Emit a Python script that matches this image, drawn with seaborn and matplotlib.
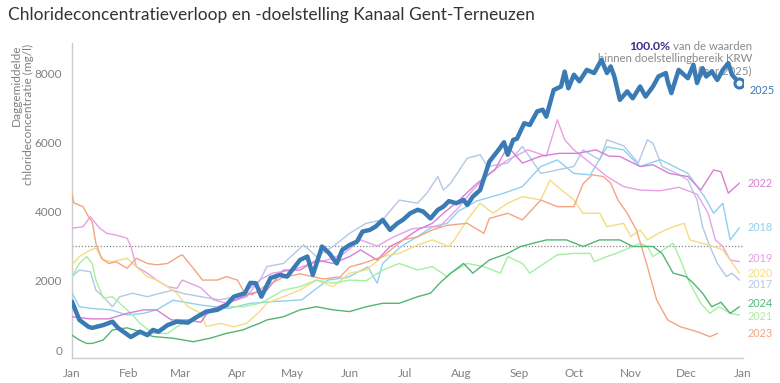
import numpy as np
import pandas as pd
import matplotlib
matplotlib.use("Agg")
import matplotlib.pyplot as plt
import seaborn as sns

# dag van het jaar (0 = 1 jan) en daggemiddelde chlorideconcentratie (mg/l)
days_2025 = [0, 4, 9, 11, 17, 22, 25, 32, 37, 41, 44, 47, 52, 57, 63, 68, 73, 79, 84, 88, 94, 97, 100,
             103, 108, 113, 117, 124, 128, 131, 136, 140, 144, 147, 151, 155, 158, 162, 165, 169, 173,
             177, 180, 184, 188, 191, 195, 199, 202, 205, 209, 213, 215, 218, 222, 227, 232, 235, 237,
             240, 242, 246, 249, 253, 256, 258, 262, 266, 268, 270, 273, 276, 280, 284, 288, 291, 293,
             295, 298, 302, 305, 309, 312, 316, 319, 323, 324, 326, 330, 335, 338, 340, 343, 345, 348,
             351, 354, 357, 359, 363]
vals_2025 = [1400, 870, 670, 640, 720, 820, 640, 375, 530, 430, 580, 530, 720, 820, 790, 960, 1110, 1160,
             1300, 1540, 1640, 1940, 1930, 1540, 2080, 2170, 2120, 2600, 2700, 2170, 2990, 2790, 2500,
             2890, 3035, 3130, 3420, 3470, 3560, 3760, 3470, 3660, 3760, 3950, 4050, 4000, 3800, 4050,
             4140, 4300, 4240, 4335, 4190, 4430, 4620, 5440, 5780, 6000, 5640, 6070, 6100, 6550, 6500,
             6890, 6940, 6740, 7510, 7610, 8040, 7560, 7950, 7760, 8090, 8000, 8380, 8000, 8190, 7900,
             7225, 7470, 7270, 7610, 7320, 7610, 7900, 8000, 7760, 7420, 8090, 7850, 8240, 7710, 8140,
             7900, 8040, 7800, 8090, 8285, 7950, 7710]

days_2024 = [0, 4, 8, 11, 17, 22, 30, 37, 44, 55, 66, 75, 84, 93, 97, 102, 106, 115, 124, 133, 142, 151,
             160, 169, 178, 188, 195, 200, 206, 213, 218, 227, 237, 244, 258, 269, 278, 287, 298, 305,
             316, 321, 327, 334, 338, 343, 348, 353, 358, 363]
vals_2024 = [430, 290, 190, 190, 290, 580, 640, 530, 390, 340, 240, 340, 480, 580, 670, 770, 870, 960,
             1160, 1250, 1160, 1110, 1250, 1350, 1350, 1540, 1640, 1930, 2220, 2500, 2220, 2600, 2790,
             2990, 3180, 3180, 2990, 3180, 3180, 2990, 2990, 2790, 2220, 2120, 1930, 1640, 1250, 1380,
             1060, 1250]

days_2023 = [0, 1, 6, 9, 11, 13, 16, 20, 24, 30, 35, 41, 46, 52, 58, 60, 66, 71, 79, 84, 90, 93, 98, 105,
             115, 124, 137, 146, 151, 158, 169, 180, 188, 196, 204, 215, 224, 227, 237, 245, 255, 264,
             273, 278, 283, 289, 293, 297, 302, 307, 313, 318, 324, 331, 340, 347, 351]
vals_2023 = [4500, 4250, 4140, 3850, 3700, 3080, 2650, 2500, 2550, 2360, 2650, 2500, 2460, 2500, 2700,
             2750, 2360, 2020, 2020, 2120, 2020, 1730, 1590, 1850, 2100, 2200, 2050, 2120, 2400, 2500,
             2700, 3180, 3270, 3470, 3600, 3660, 3370, 3800, 3950, 3760, 4330, 4140, 4140, 4800, 5060,
             5010, 4820, 4330, 3950, 3470, 2410, 1450, 870, 670, 530, 385, 480]

days_2022 = [0, 10, 20, 30, 39, 46, 54, 63, 70, 75, 84, 93, 98, 106, 115, 124, 133, 142, 151, 157, 166,
             173, 180, 188, 196, 202, 210, 220, 230, 237, 245, 255, 265, 275, 285, 292, 298, 309, 316,
             325, 335, 342, 349, 353, 357, 363]
vals_2022 = [960, 900, 900, 1060, 1160, 1160, 870, 870, 800, 1160, 1350, 1540, 1640, 1730, 2310, 2310,
             2600, 2500, 2700, 2890, 2600, 2990, 3180, 3470, 3660, 3950, 4300, 4800, 5200, 5880, 5400,
             5600, 5680, 5680, 5780, 5600, 5590, 5300, 5350, 5100, 5010, 4620, 5200, 5150, 4530, 4820]

days_2021 = [0, 4, 8, 11, 13, 17, 22, 28, 33, 37, 44, 52, 57, 63, 70, 79, 84, 93, 102, 106, 115, 124,
             133, 142, 151, 160, 169, 178, 188, 196, 204, 206, 215, 224, 233, 237, 245, 249, 264, 273,
             282, 284, 291, 296, 309, 313, 316, 327, 331, 336, 342, 347, 352, 358, 363]
vals_2021 = [2120, 2500, 2700, 2500, 2020, 1500, 1540, 1250, 1010, 770, 480, 480, 670, 870, 960, 1160,
             1250, 1250, 1350, 1450, 1730, 1830, 2020, 1930, 2020, 2000, 2310, 2500, 2310, 2410, 2120,
             2220, 2500, 2410, 2220, 2700, 2500, 2220, 2750, 2790, 2790, 2550, 2700, 2790, 3080, 2990,
             2700, 3080, 2600, 1930, 1350, 1060, 1250, 1060, 1010]

days_2020 = [0, 4, 10, 13, 17, 22, 30, 35, 41, 46, 52, 57, 63, 70, 73, 81, 88, 95, 102, 106, 115, 124,
             133, 142, 151, 160, 169, 178, 188, 196, 205, 208, 215, 222, 229, 237, 245, 255, 260, 264,
             273, 278, 287, 291, 300, 304, 309, 313, 320, 327, 333, 336, 343, 349, 354, 358, 363]
vals_2020 = [2460, 2700, 2890, 2940, 2600, 2550, 2650, 2400, 2120, 2020, 1830, 1640, 1250, 1060, 680,
             770, 670, 770, 1110, 1350, 1540, 1730, 2020, 1830, 2220, 2310, 2700, 2790, 3035, 3180, 2990,
             3180, 3760, 4240, 3950, 4240, 4430, 4335, 4910, 4720, 4335, 3950, 3950, 3560, 3660, 3275,
             3470, 3180, 3400, 3560, 3660, 3180, 3080, 2990, 2890, 2600, 2220]

days_2019 = [0, 6, 10, 15, 19, 24, 30, 32, 35, 41, 46, 52, 57, 60, 70, 77, 84, 95, 102, 109, 120, 130,
             139, 148, 157, 166, 175, 185, 195, 200, 210, 218, 227, 237, 248, 258, 264, 268, 273, 282,
             291, 300, 309, 320, 330, 340, 346, 350, 354, 358, 363]
vals_2019 = [3520, 3560, 3850, 3520, 3370, 3320, 3230, 2990, 2410, 2220, 2020, 1830, 1780, 2020, 1800,
             1450, 1350, 1540, 2020, 2220, 2310, 2500, 2600, 2790, 3180, 3000, 3270, 3500, 3560, 3560,
             4100, 4620, 5100, 5490, 5780, 5600, 6650, 6070, 5780, 5400, 5010, 4720, 4620, 4600, 4700,
             4500, 3950, 3180, 2990, 2600, 2550]

days_2018 = [0, 4, 11, 21, 30, 39, 46, 55, 70, 85, 97, 110, 125, 139, 150, 161, 166, 169, 179, 188, 196,
             204, 210, 220, 235, 245, 255, 264, 273, 282, 291, 300, 309, 320, 335, 344, 349, 354, 358, 363]
vals_2018 = [1650, 1250, 1200, 1160, 1010, 1060, 1160, 1440, 1300, 1200, 1350, 1400, 1450, 2020, 2100,
             2400, 1930, 2500, 2990, 3280, 3560, 3660, 4000, 4300, 4530, 4720, 5300, 5490, 5100, 5060,
             5870, 5780, 5300, 5500, 5100, 4430, 3950, 4240, 3180, 3530]

days_2017 = [0, 4, 10, 13, 17, 22, 26, 33, 41, 48, 55, 60, 70, 80, 90, 98, 102, 106, 115, 126, 133, 142,
             151, 160, 169, 178, 188, 193, 199, 202, 206, 215, 222, 226, 237, 245, 255, 273, 278, 287,
             291, 300, 308, 313, 316, 321, 329, 335, 340, 343, 347, 351, 356, 359, 363]
vals_2017 = [2120, 2310, 2260, 1730, 1540, 1250, 1540, 1640, 1540, 1640, 1730, 1640, 1540, 1450, 1540,
             1830, 1990, 2410, 2500, 3035, 2700, 2990, 3370, 3660, 3760, 4330, 4240, 4530, 5010, 4620,
             4820, 5540, 5640, 5300, 5400, 5880, 5100, 5300, 5780, 5490, 6070, 5900, 5400, 6070, 5970,
             5300, 5100, 4910, 4330, 3560, 2990, 2500, 2120, 2220, 2020]

years = ["2017", "2018", "2019", "2020", "2021", "2022", "2023", "2024", "2025"]
month_labels = ["Jan", "Feb", "Mar", "Apr", "May", "Jun", "Jul", "Aug", "Sep", "Oct", "Nov", "Dec", "Jan"]
month_starts = [0, 31, 59, 90, 120, 151, 181, 212, 243, 273, 304, 334, 365]
target = 3000
pct_ok = "100.0%"

series = {
    "2017": (days_2017, vals_2017), "2018": (days_2018, vals_2018),
    "2019": (days_2019, vals_2019), "2020": (days_2020, vals_2020),
    "2021": (days_2021, vals_2021), "2022": (days_2022, vals_2022),
    "2023": (days_2023, vals_2023), "2024": (days_2024, vals_2024),
    "2025": (days_2025, vals_2025),
}
df = pd.concat([pd.DataFrame({"day": d, "value": v, "year": y}) for y, (d, v) in series.items()],
               ignore_index=True)

palette = {
    "2017": "#b3c7e6", "2018": "#8fd0f0", "2019": "#e8a0e8", "2020": "#f5dc82",
    "2021": "#a5f0a0", "2022": "#d77fd7", "2023": "#f4a484", "2024": "#52b574",
    "2025": "#3a7ab5",
}
widths = {y: 1.0 for y in years}
widths["2025"] = 3.2

sns.set_style("white")
plt.rcParams["font.family"] = ["Lato", "DejaVu Sans"]

fig = plt.figure(figsize=(7.8, 3.83), dpi=100)
ax = fig.add_axes([0.0923, 0.0653, 0.8603, 0.8227])

# doelstelling
ax.axhline(target, color="#888888", linestyle=(0, (1, 1.5)), linewidth=0.9, zorder=1)

sns.lineplot(data=df, x="day", y="value", hue="year", hue_order=years, palette=palette,
             size="year", size_order=years, sizes=widths, estimator=None, legend=False, ax=ax,
             zorder=3)

# eindpunt 2025
ax.plot(days_2025[-1], vals_2025[-1], "o", ms=6.5, mfc="white", mec=palette["2025"], mew=2.2, zorder=5)

# jaarlabels rechts (kleine verschuiving in punten om overlap te vermijden)
label_shift = {"2025": -5, "2019": 2, "2020": 0, "2017": -3, "2024": 2, "2021": -1}
for y in years:
    d, v = series[y]
    ax.annotate(y, xy=(365, v[-1]), xytext=(3 if y != "2025" else 5, label_shift.get(y, 0)),
                textcoords="offset points", va="center", ha="left", fontsize=7.8,
                color=palette[y], annotation_clip=False)

ax.set_xlim(0, 365)
ax.set_ylim(-230, 8870)
ax.set_xticks(month_starts)
ax.set_xticklabels(month_labels)
ax.set_yticks([0, 2000, 4000, 6000, 8000])
ax.set_xlabel("")
ax.set_ylabel("")
for s in ["top", "right"]:
    ax.spines[s].set_visible(False)
for s in ["left", "bottom"]:
    ax.spines[s].set_color("#cccccc")
    ax.spines[s].set_linewidth(1.0)
ax.tick_params(axis="both", colors="#cccccc", labelcolor="#808080", labelsize=8.5, length=4,
               width=1.0, pad=3)

fig.text(0.010, 0.962, "Chlorideconcentratieverloop en -doelstelling Kanaal Gent-Terneuzen",
         fontsize=12.5, color="#333333", ha="left", va="center")
fig.text(0.029, 0.885, "Daggemiddelde\nchlorideconcentratie (mg/l)", rotation=90,
         fontsize=8.6, color="#808080", ha="center", va="top", multialignment="right",
         linespacing=1.1)

# samenvatting rechtsboven (achter de lijn van 2025)
xr = 752 / 780
t1 = ax.text(xr, 1 - 46 / 383, "van de waarden", transform=fig.transFigure, ha="right",
             va="center", fontsize=8.2, color="#8a8a8a", zorder=1, clip_on=False)
ax.text(xr, 1 - 58 / 383, "binnen doelstellingbereik KRW", transform=fig.transFigure, ha="right",
        va="center", fontsize=8.2, color="#8a8a8a", zorder=1, clip_on=False)
ax.text(xr, 1 - 71 / 383, "(jaar 2025)", transform=fig.transFigure, ha="right", va="center",
        fontsize=8.2, color="#8a8a8a", zorder=1, clip_on=False)
fig.canvas.draw()
x0 = t1.get_window_extent().x0 - 3
ax.text(x0 / fig.bbox.width, 1 - 46 / 383, pct_ok, transform=fig.transFigure, ha="right",
        va="center", fontsize=8.8, fontweight="bold", color="#3d2e8f", zorder=1, clip_on=False)

fig.savefig("out.png", dpi=100)
